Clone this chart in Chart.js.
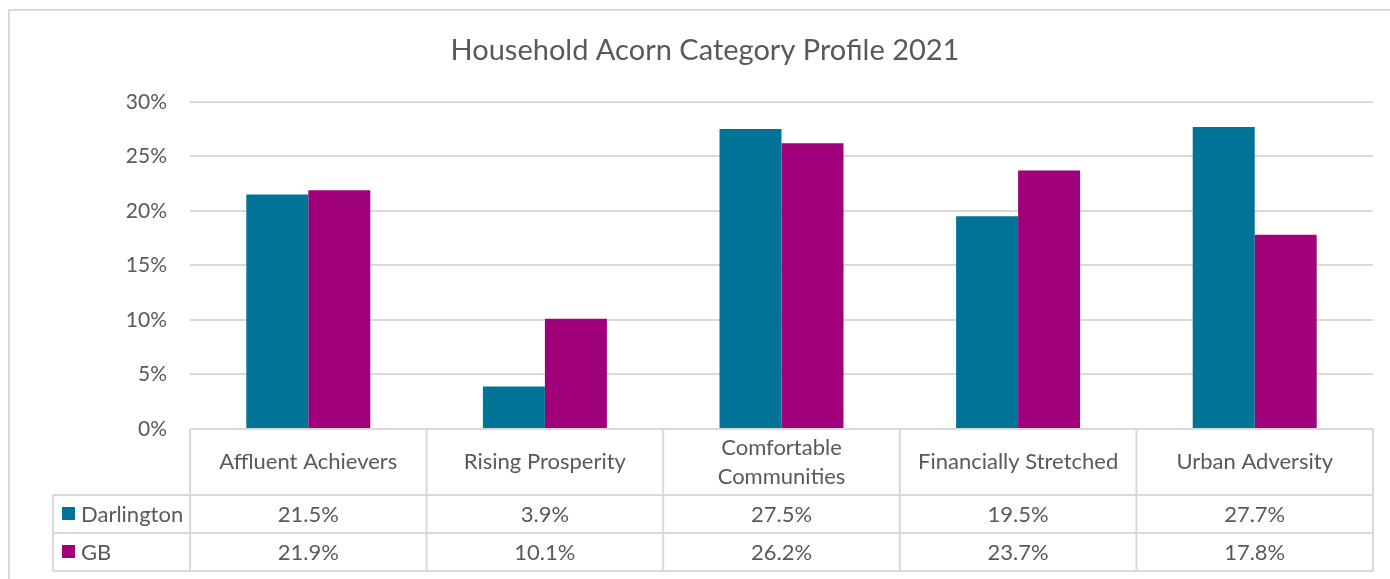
<!DOCTYPE html>
<html>
<head>
<meta charset="utf-8">
<script src="https://cdn.jsdelivr.net/npm/chart.js@4"></script>
<style>
  html, body { margin: 0; padding: 0; background: #fff; overflow: hidden; }
  #wrap { position: relative; width: 1390px; height: 579px; }
  #frame { position: absolute; left: 8px; top: 9px; width: 1420px; height: 620px; border: 2px solid #d9d9d9; box-sizing: border-box; }
  canvas { position: absolute; left: 0; top: 0; }
</style>
</head>
<body>
<div id="wrap">
  <div id="frame"></div>
  <canvas id="acornChart" width="1390" height="579"></canvas>
</div>
<script>
  // Chart data
  const categories = [
    'Affluent Achievers',
    'Rising Prosperity',
    ['Comfortable', 'Communities'],
    'Financially Stretched',
    'Urban Adversity'
  ];
  const darlington = [21.5, 3.9, 27.5, 19.5, 27.7];
  const gb = [21.9, 10.1, 26.2, 23.7, 17.8];
  const yTicks = [0, 5, 10, 15, 20, 25, 30];

  const textColor = '#595959';
  const lineColor = '#d9d9d9';
  const fontFamily = 'Lato, "Open Sans", sans-serif';

  // Excel-style data table drawn under the plot, columns taken from the x scale
  const dataTablePlugin = {
    id: 'dataTable',
    afterDraw(chart) {
      const ctx = chart.ctx;
      const x = chart.scales.x;
      const area = chart.chartArea;
      const half = (x.getPixelForValue(1) - x.getPixelForValue(0)) / 2;
      const top = area.bottom;
      const hdrBottom = top + 66;
      const row1 = hdrBottom + 38;
      const row2 = row1 + 38;
      const tableLeft = 53;

      ctx.save();
      ctx.strokeStyle = lineColor;
      ctx.lineWidth = 2;
      ctx.beginPath();
      ctx.moveTo(area.left, top); ctx.lineTo(area.right, top);
      [hdrBottom, row1, row2].forEach(y => { ctx.moveTo(tableLeft, y); ctx.lineTo(area.right, y); });
      for (let i = 0; i <= categories.length; i++) {
        const px = x.getPixelForValue(0) - half + i * half * 2;
        ctx.moveTo(px, top); ctx.lineTo(px, row2);
      }
      ctx.moveTo(tableLeft, hdrBottom); ctx.lineTo(tableLeft, row2);
      ctx.stroke();

      ctx.fillStyle = textColor;
      ctx.font = '22px ' + fontFamily;
      ctx.textAlign = 'center';
      ctx.textBaseline = 'middle';
      categories.forEach((label, i) => {
        const cx = x.getPixelForValue(i);
        const lines = Array.isArray(label) ? label : [label];
        const mid = (top + hdrBottom) / 2;
        lines.forEach((ln, j) => {
          ctx.fillText(ln, cx, mid + (j - (lines.length - 1) / 2) * 29);
        });
        ctx.fillText(darlington[i].toFixed(1) + '%', cx, (hdrBottom + row1) / 2 + 1);
        ctx.fillText(gb[i].toFixed(1) + '%', cx, (row1 + row2) / 2 + 1);
      });

      // row headers with legend keys
      const series = [['Darlington', chart.data.datasets[0].backgroundColor, (hdrBottom + row1) / 2],
                      ['GB', chart.data.datasets[1].backgroundColor, (row1 + row2) / 2]];
      ctx.textAlign = 'left';
      series.forEach(([name, color, cy]) => {
        ctx.fillStyle = color;
        ctx.fillRect(62, cy - 7, 13, 13);
        ctx.fillStyle = textColor;
        ctx.fillText(name, 81, cy + 1);
      });
      ctx.restore();
    }
  };

  const ctx = document.getElementById('acornChart').getContext('2d');
  const acornChart = new Chart(ctx, {
    type: 'bar',
    data: {
      labels: categories,
      datasets: [
        { label: 'Darlington', data: darlington, backgroundColor: '#017396' },
        { label: 'GB', data: gb, backgroundColor: '#a0007a' }
      ]
    },
    options: {
      responsive: false,
      animation: false,
      layout: { padding: { left: 37, right: 17, top: 0, bottom: 150 } },
      datasets: { bar: { categoryPercentage: 0.524, barPercentage: 1 } },
      plugins: {
        legend: { display: false },
        tooltip: { enabled: false },
        title: {
          display: true,
          text: 'Household Acorn Category Profile 2021',
          color: textColor,
          font: { family: fontFamily, size: 29, weight: 'normal' },
          padding: { top: 33, bottom: 34 }
        }
      },
      scales: {
        x: { display: false },
        y: {
          min: 0,
          max: 30,
          afterFit(scale) { scale.width = 153; },
          afterBuildTicks(scale) { scale.ticks = yTicks.map(v => ({ value: v })); },
          border: { display: false },
          grid: { color: lineColor, lineWidth: 2, drawTicks: false },
          ticks: {
            color: textColor,
            padding: 23,
            font: { family: fontFamily, size: 21 },
            callback: v => v + '%'
          }
        }
      }
    },
    plugins: [dataTablePlugin]
  });
</script>
</body>
</html>
